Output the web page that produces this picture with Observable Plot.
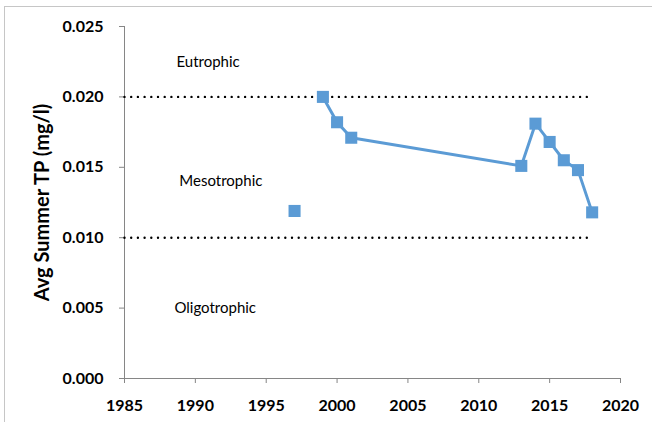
<!DOCTYPE html>
<html><head><meta charset="utf-8">
<script src="https://cdn.jsdelivr.net/npm/d3@7"></script>
<script src="https://cdn.jsdelivr.net/npm/@observablehq/plot@0.6"></script>
<style>
html,body{margin:0;padding:0;background:#fff;}
#wrap{position:relative;width:652px;height:422px;overflow:hidden;}
#border{position:absolute;left:4px;top:6px;width:800px;height:800px;border-left:1px solid #c6c6c6;border-top:1px solid #c6c6c6;}
#chart{position:absolute;left:0;top:0;}
</style></head>
<body><div id="wrap"><div id="border"></div><div id="chart"></div></div>
<script>
// Data
const years = [1997, 1999, 2000, 2001, 2013, 2014, 2015, 2016, 2017, 2018];
const tp = [0.0119, 0.0200, 0.0182, 0.0171, 0.0151, 0.0181, 0.0168, 0.0155, 0.0148, 0.0118];
const lineYears = [1999, 2000, 2001, 2013, 2014, 2015, 2016, 2017, 2018];
const thresholdYears = [1985, 2018];
const thresholds = [0.020, 0.010];
const zoneNames = ["Eutrophic", "Mesotrophic", "Oligotrophic"];
const zoneYears = [1990.9, 1991.8, 1991.4];
const zoneValues = [0.0225, 0.0140, 0.0050];
const xTicks = [1985, 1990, 1995, 2000, 2005, 2010, 2015, 2020];
const yTicks = [0, 0.005, 0.010, 0.015, 0.020, 0.025];
const yTitle = "Avg Summer TP (mg/l)";

const points = years.map((y, i) => ({year: y, tp: tp[i]}));
const linePts = points.filter(d => lineYears.includes(d.year));
const thresholdLines = thresholds.flatMap((v, k) => thresholdYears.map(y => ({year: y, v, k})));
const zones = zoneNames.map((n, i) => ({name: n, year: zoneYears[i], v: zoneValues[i]}));

const blue = "#5b9bd5";
const gray = "#868686";
const font = "Lato, 'Open Sans', sans-serif";

const chart = Plot.plot({
  width: 652, height: 422,
  marginLeft: 124, marginRight: 32, marginTop: 26, marginBottom: 44,
  style: {fontFamily: font, background: "transparent"},
  x: {domain: [1985, 2020]},
  y: {domain: [0, 0.025]},
  marks: [
    Plot.axisX({ticks: xTicks, tickFormat: d => String(d), tickSize: 5, tickPadding: 16,
      stroke: gray, fill: "black", fontSize: 16, fontWeight: "bold", label: null}),
    Plot.axisY({ticks: yTicks, tickFormat: d3.format(".3f"), tickSize: 5, tickPadding: 16,
      stroke: gray, fill: "black", fontSize: 16, fontWeight: "bold", label: null}),
    Plot.axisY({ticks: [], tickSize: 0, label: yTitle, labelAnchor: "center", labelArrow: "none",
      labelOffset: 90, fill: "black", fontSize: 20, fontWeight: "bold"}),
    Plot.ruleY([0], {stroke: gray}),
    Plot.ruleX([1985], {stroke: gray}),
    Plot.line(thresholdLines, {x: "year", y: "v", z: "k", stroke: "black", strokeWidth: 2.4,
      strokeDasharray: "0 6.7", strokeLinecap: "round"}),
    Plot.line(linePts, {x: "year", y: "tp", stroke: blue, strokeWidth: 3}),
    Plot.dot(points, {x: "year", y: "tp", symbol: "square", r: 6.8, fill: blue}),
    Plot.text(zones, {x: "year", y: "v", text: "name", fontSize: 15, fill: "black"})
  ]
});
document.getElementById("chart").appendChild(chart);
</script></body></html>
